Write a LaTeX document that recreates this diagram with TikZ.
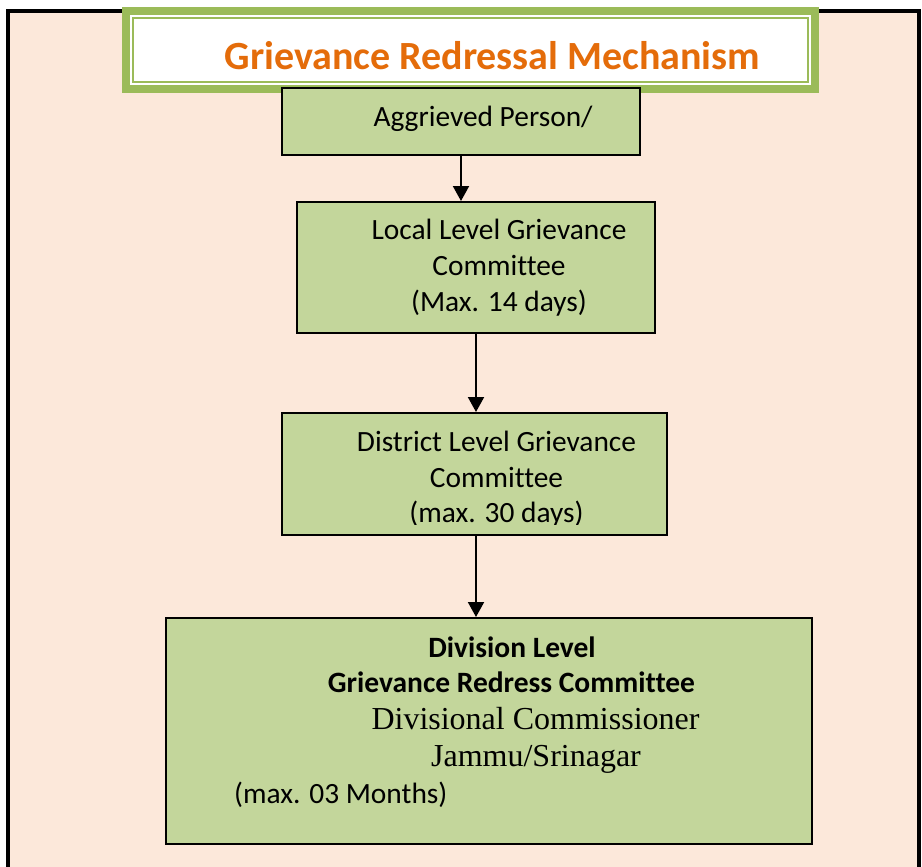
\documentclass[tikz,border=0pt]{standalone}
\usepackage{fontspec}
\setmainfont[Ligatures={NoCommon}]{Carlito}
\newfontfamily\timesf{Liberation Serif}
\usetikzlibrary{arrows.meta}
\definecolor{peach}{HTML}{FCE8DA}
\definecolor{olive}{HTML}{9BBB59}
\definecolor{boxgreen}{HTML}{C3D69B}
\definecolor{titleorange}{HTML}{E46C0A}
\begin{document}
\begin{tikzpicture}[x=1pt,y=-1pt,
  stepbox/.style={draw=black, line width=2pt, fill=boxgreen, inner sep=0pt, anchor=north west},
  txt/.style={font=\fontsize{29.4}{34}\selectfont, inner sep=0pt, anchor=base},
  btxt/.style={font=\fontsize{29.5}{34}\selectfont\bfseries, inner sep=0pt, anchor=base},
  stxt/.style={font=\fontsize{32}{36}\selectfont\timesf, inner sep=0pt, anchor=base},
  arr/.style={line width=2pt, -{Triangle[width=16pt,length=15pt]}}]
\useasboundingbox (0,0) rectangle (922,867);
\fill[white] (0,0) rectangle (922,867);
\begin{scope}
\clip (0,0) rectangle (922,867);
\draw[line width=3.5pt, fill=peach] (8,11) rectangle (919,900);
\end{scope}
% title
\node[draw=olive, line width=8pt, fill=white, minimum width=689pt, minimum height=78.3pt, inner sep=0pt] (title) at (470.5,49.85) {};
\draw[olive, line width=1.8pt] (133,17.7) rectangle (808,82);
\node[font=\fontsize{40}{44}\selectfont\bfseries, text=titleorange, inner sep=0pt, anchor=base] (ttl) at (492.5,69.5) {Grievance Redressal Mechanism};
% boxes
\node[stepbox, minimum width=358pt, minimum height=67pt] (b1) at (281,87) {};
\node[txt] (t1) at (483,126) {Aggrieved Person/};
\node[stepbox, minimum width=358pt, minimum height=131pt] (b2) at (296,201) {};
\node[txt] (t2a) at (499,239) {Local Level Grievance};
\node[txt] (t2b) at (499,275) {Committee};
\node[txt] (t2c) at (499,311) {(Max. 14 days)};
\node[stepbox, minimum width=385pt, minimum height=122pt] (b3) at (281,412) {};
\node[txt] (t3a) at (496.5,451.5) {District Level Grievance};
\node[txt] (t3b) at (496.5,487.5) {Committee};
\begin{scope}
\clip (281,412) rectangle (666,524);
\node[txt] (t3c) at (496.5,522.5) {(max. 30 days)};
\end{scope}
\node[stepbox, minimum width=646pt, minimum height=226pt] (b4) at (165,617) {};
\node[btxt] (t4a) at (512,657) {Division Level};
\node[btxt] (t4b) at (511.5,692.5) {Grievance Redress Committee};
\node[stxt] (t4c) at (535.5,729) {Divisional Commissioner};
\node[stxt] (t4d) at (536,766.5) {Jammu/Srinagar};
\node[txt, anchor=base west] (t4e) at (234,803) {(max. 03 Months)};
% arrows
\draw[arr] (b1.south) -- (b1.south |- b2.north);
\draw[arr] (b2.south) -- (b2.south |- b3.north);
\draw[arr] ([xshift=1.5pt]b3.south) -- ([xshift=1.5pt]b3.south |- b4.north);
\end{tikzpicture}
\end{document}
